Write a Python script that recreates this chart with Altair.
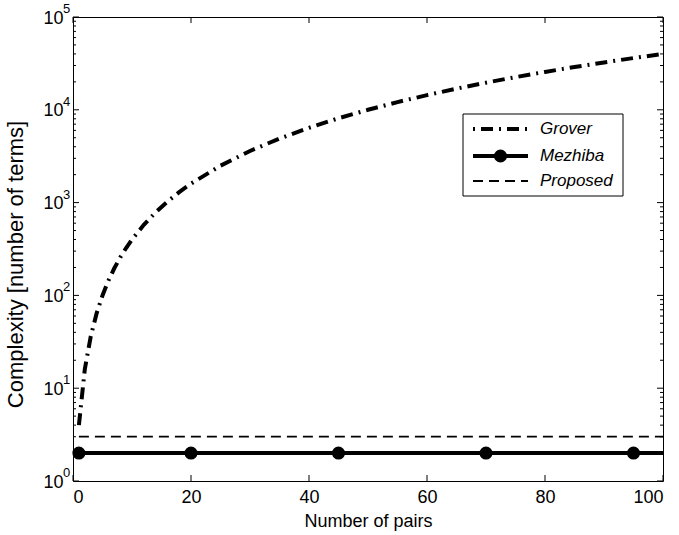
import altair as alt
import pandas as pd

# Complexity (number of terms) versus number of pairs
pairs = [1, 2, 3, 4, 5, 6, 7, 8, 9, 10, 12, 14, 16, 18, 20, 25, 30, 35, 40,
         45, 50, 55, 60, 65, 70, 75, 80, 85, 90, 95, 100]
grover = [4, 16, 36, 64, 100, 144, 196, 256, 324, 400, 576, 784, 1024, 1296,
          1600, 2500, 3600, 4900, 6400, 8100, 10000, 12100, 14400, 16900,
          19600, 22500, 25600, 28900, 32400, 36100, 40000]

mezhiba_span = [1, 100]
mezhiba_values = [2, 2]
mezhiba_markers = [1, 20, 45, 70, 95]
mezhiba_marker_values = [2, 2, 2, 2, 2]

proposed_span = [1, 100]
proposed_values = [3, 3]

x_ticks = [0, 20, 40, 60, 80, 100]
y_decades = [1, 10, 100, 1000, 10000, 100000]
y_exponents = ["0", "1", "2", "3", "4", "5"]
minor_steps = [2, 3, 4, 5, 6, 7, 8, 9]

legend_names = ["Grover", "Mezhiba", "Proposed"]

W, H = 590, 464
FONT = "Liberation Sans"

grover_df = pd.DataFrame({"n": pairs, "c": grover})
mezhiba_df = pd.DataFrame({"n": mezhiba_span, "c": mezhiba_values})
mezhiba_pts = pd.DataFrame({"n": mezhiba_markers, "c": mezhiba_marker_values})
proposed_df = pd.DataFrame({"n": proposed_span, "c": proposed_values})
xtick_df = pd.DataFrame({"n": x_ticks})
major_df = pd.DataFrame({"c": y_decades, "e": y_exponents})
minor_df = pd.DataFrame({"c": [m * d for d in y_decades[:-1] for m in minor_steps]})
one = pd.DataFrame({"k": [0]})

x_scale = alt.Scale(domain=[0, 100], nice=False, zero=False)
y_scale = alt.Scale(type="log", domain=[1, 100000], nice=False)

x_axis = alt.Axis(
    values=x_ticks, format="d", grid=False, domain=False, ticks=False, tickSize=0,
    labelFont=FONT, labelFontSize=18, labelColor="black", labelPadding=7,
    title="Number of pairs", titleFont=FONT, titleFontSize=18,
    titleFontWeight="normal", titleColor="black",
    titleBaseline="alphabetic", titleY=45,
)
y_axis = alt.Axis(
    values=y_decades, labelExpr="'10'", grid=False, domain=False, ticks=False,
    tickSize=0, labelFont=FONT, labelFontSize=18, labelColor="black",
    labelPadding=10, labelOffset=1,
    title="Complexity [number of terms]", titleFont=FONT, titleFontSize=22,
    titleFontWeight="normal", titleColor="black",
    titleBaseline="alphabetic", titleX=-51, titleY=247, titleAngle=-90,
)

X = alt.X("n:Q", scale=x_scale, axis=x_axis)
Y = alt.Y("c:Q", scale=y_scale, axis=y_axis)

grover_line = alt.Chart(grover_df).mark_line(
    color="black", strokeWidth=4, strokeDash=[12, 6, 2, 6]
).encode(x=X, y=Y)

mezhiba_line = alt.Chart(mezhiba_df).mark_line(
    color="black", strokeWidth=4
).encode(x=X, y=Y)

mezhiba_dots = alt.Chart(mezhiba_pts).mark_point(
    shape="circle", filled=True, color="black", size=170, opacity=1
).encode(x=X, y=Y)

proposed_line = alt.Chart(proposed_df).mark_line(
    color="black", strokeWidth=1.8, strokeDash=[10, 6]
).encode(x=X, y=Y)

# inward tick marks on all four sides of the frame
tick_style = dict(color="black", strokeWidth=1)
x_bottom = alt.Chart(xtick_df).mark_rule(**tick_style).encode(
    x=X, y=alt.value(H), y2=alt.value(H - 6))
x_top = alt.Chart(xtick_df).mark_rule(**tick_style).encode(
    x=X, y=alt.value(0), y2=alt.value(6))
y_left_major = alt.Chart(major_df).mark_rule(**tick_style).encode(
    y=Y, x=alt.value(0), x2=alt.value(6))
y_right_major = alt.Chart(major_df).mark_rule(**tick_style).encode(
    y=Y, x=alt.value(W), x2=alt.value(W - 6))
y_left_minor = alt.Chart(minor_df).mark_rule(**tick_style).encode(
    y=Y, x=alt.value(0), x2=alt.value(3))
y_right_minor = alt.Chart(minor_df).mark_rule(**tick_style).encode(
    y=Y, x=alt.value(W), x2=alt.value(W - 3))

# superscript exponents next to the "10" labels
exponents = alt.Chart(major_df).mark_text(
    align="left", baseline="middle", font=FONT, fontSize=13, color="black", dy=-8
).encode(y=Y, x=alt.value(-10), text="e:N")

# legend box
LX0, LX1, LY0, LY1 = 390, 550, 97, 179
SX0, SX1, TX = 400, 455, 467
rows = [112, 139, 164]

legend_box = alt.Chart(one).mark_rect(
    fill="white", stroke="black", strokeWidth=1
).encode(x=alt.value(LX0), x2=alt.value(LX1), y=alt.value(LY0), y2=alt.value(LY1))

leg_grover = alt.Chart(one).mark_rule(
    color="black", strokeWidth=4, strokeDash=[12, 6, 2, 6], strokeDashOffset=18
).encode(x=alt.value(SX0), x2=alt.value(SX1), y=alt.value(rows[0]))
leg_mezhiba = alt.Chart(one).mark_rule(color="black", strokeWidth=4).encode(
    x=alt.value(SX0), x2=alt.value(SX1), y=alt.value(rows[1]))
leg_mezhiba_dot = alt.Chart(one).mark_point(
    shape="circle", filled=True, color="black", size=170, opacity=1
).encode(x=alt.value((SX0 + SX1) / 2), y=alt.value(rows[1]))
leg_proposed = alt.Chart(one).mark_rule(
    color="black", strokeWidth=1.8, strokeDash=[10, 6]
).encode(x=alt.value(SX0), x2=alt.value(SX1), y=alt.value(rows[2]))

leg_texts = [
    alt.Chart(one).mark_text(
        text=name, align="left", baseline="middle", font=FONT, fontSize=17,
        fontStyle="italic", color="black"
    ).encode(x=alt.value(TX), y=alt.value(row))
    for name, row in zip(legend_names, rows)
]

chart = alt.layer(
    x_bottom, x_top, y_left_major, y_right_major, y_left_minor, y_right_minor,
    grover_line, proposed_line, mezhiba_line, mezhiba_dots, exponents,
    legend_box, leg_grover, leg_mezhiba, leg_mezhiba_dot, leg_proposed,
    *leg_texts,
).properties(
    width=W, height=H,
    autosize=alt.AutoSizeParams(type="none"),
    padding={"left": 73, "top": 17, "right": 679 - 73 - W, "bottom": 535 - 17 - H},
    background="white",
).configure_view(stroke="black", strokeWidth=1)

chart.save("out.html", embed_options={"renderer": "svg", "actions": False})
